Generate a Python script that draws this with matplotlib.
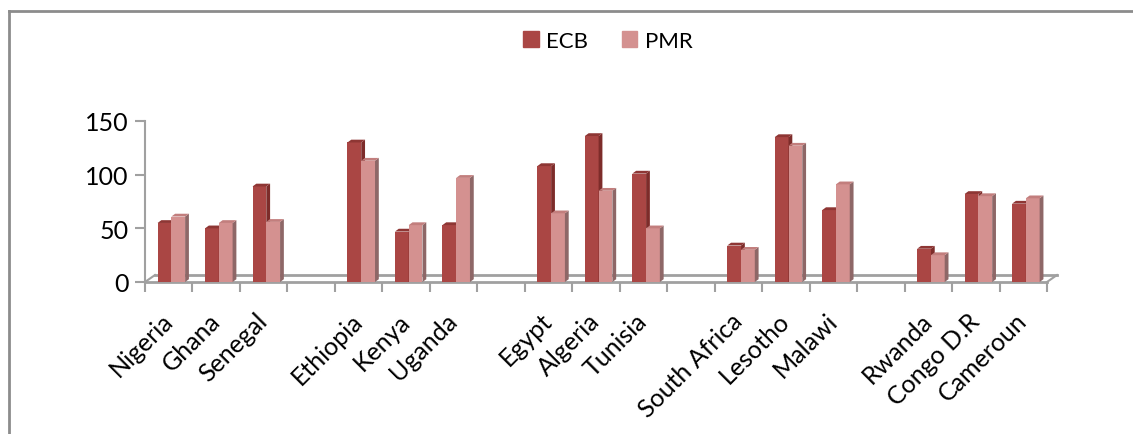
import numpy as np
import matplotlib.pyplot as plt
from matplotlib.patches import Polygon
from matplotlib.lines import Line2D

plt.rcParams['font.family'] = ['Lato', 'DejaVu Sans']

# Data (empty strings are the gaps between regional groups)
countries = ["Nigeria", "Ghana", "Senegal", "",
             "Ethiopia", "Kenya", "Uganda", "",
             "Egypt", "Algeria", "Tunisia", "",
             "South Africa", "Lesotho", "Malawi", "",
             "Rwanda", "Congo D.R", "Cameroun"]
ecb = [55, 50, 89, None, 130, 47, 53, None, 108, 136, 101, None,
       34, 135, 67, None, 31, 82, 73]
pmr = [61, 55, 56, None, 113, 53, 97, None, 64, 85, 50, None,
       30, 127, 91, None, 25, 80, 78]

series = [("ECB", ecb, "#AA4644", "#7D2C2A", "#8E3634"),
          ("PMR", pmr, "#D49190", "#8E6767", "#C27E7D")]

W, H = 1133, 435
fig = plt.figure(figsize=(W / 100, H / 100), dpi=100)
ax = fig.add_axes([145 / W, 1 - 283 / H, (1047 - 145) / W, (283 - 122) / H])

n = len(countries)
bw = 0.29
offsets = [0.41, 0.70]
dx, dy = 0.08, 2.6        # bar depth (categories, value units)
fdx, fdy = 0.21, 6.5      # floor depth

gray = "#A0A0A0"
# floor
ax.plot([fdx, n + fdx], [fdy, fdy], color=gray, lw=2, zorder=1, clip_on=False)
ax.plot([0, fdx], [0, fdy], color=gray, lw=1.5, zorder=1, clip_on=False)
ax.plot([n, n + fdx], [0, fdy], color=gray, lw=1.5, zorder=1, clip_on=False)

for (name, vals, front, side, top), off in zip(series, offsets):
    xs = [i + off for i, v in enumerate(vals) if v is not None]
    hs = [v for v in vals if v is not None]
    bars = ax.bar(xs, hs, width=bw, color=front, zorder=3, label=name)
    for b in bars:
        x0 = b.get_x()
        x1 = x0 + b.get_width()
        h = b.get_height()
        ax.add_patch(Polygon([(x1, 0), (x1 + dx, dy), (x1 + dx, h + dy), (x1, h)],
                             closed=True, color=side, zorder=3, lw=0))
        ax.add_patch(Polygon([(x0, h), (x0 + dx, h + dy), (x1 + dx, h + dy), (x1, h)],
                             closed=True, color=top, zorder=3, lw=0))

ax.set_xlim(0, n)
ax.set_ylim(0, 150)
ax.set_yticks([0, 50, 100, 150])
ax.tick_params(axis='y', labelsize=18, color=gray, length=7, width=1.5, pad=5)

ax.set_xticks(np.arange(n + 1))
ax.set_xticklabels([])
ax.set_xticks(np.arange(n) + 0.5, minor=True)
ax.set_xticklabels(countries, minor=True, rotation=45, ha='right',
                   va='center', rotation_mode='anchor')
ax.tick_params(axis='x', which='major', color=gray, length=7, width=1.5)
ax.tick_params(axis='x', which='minor', length=0, pad=25, labelsize=18)

for s in ['top', 'right']:
    ax.spines[s].set_visible(False)
ax.spines['left'].set_color(gray)
ax.spines['bottom'].set_color(gray)
ax.spines['left'].set_linewidth(1.5)
ax.spines['bottom'].set_linewidth(2)
ax.set_zorder(2)

handles = [plt.Rectangle((0, 0), 1, 1, color=c) for _, _, c, _, _ in series]
fig.legend(handles, [s[0] for s in series], loc='center', ncol=2,
           bbox_to_anchor=(608 / W, 1 - 42 / H), frameon=False, fontsize=16,
           handlelength=0.7, handleheight=0.7, handletextpad=0.35, columnspacing=1.5)

# chart border (only top and left edges are inside the image)
fig.add_artist(Line2D([9 / W, 1], [1 - 12 / H, 1 - 12 / H], color="#8C8C8C", lw=2))
fig.add_artist(Line2D([9 / W, 9 / W], [0, 1 - 12 / H], color="#8C8C8C", lw=2))

fig.savefig("out.png", dpi=100)
